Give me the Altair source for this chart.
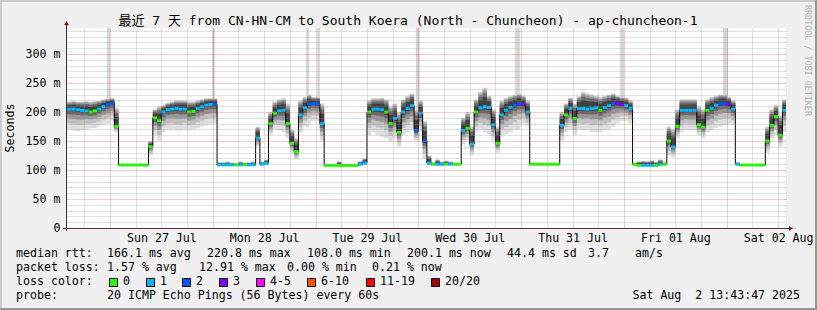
import altair as alt
import pandas as pd

# ---------------- data ----------------
hours = list(range(14, 182))  # hours since Sat 26 Jul 00:00

median_ms = [
    205, 205, 204, 203, 202, 200, 202, 205, 209, 213, 215,
    175,
    108.6, 108.6, 108.6, 108.6, 108.6, 108.6, 108.6,
    140, 190, 185,
    200, 204, 205, 206, 205, 205, 200, 201, 206, 209, 212, 213, 213,
    109, 109, 109, 109, 109, 109, 109, 109, 109,
    155, 110, 112,
    180, 198, 202, 203, 180, 146, 132, 195, 207, 214, 215, 214, 180,
    108, 108, 108, 108, 108, 108, 108, 108,
    110, 112,
    200, 205, 205, 204, 200, 180, 189, 165, 200, 206, 211, 168, 198, 150,
    112, 110, 110, 110, 110, 110, 110, 110,
    168, 172, 145, 200, 207, 209, 208, 178, 146, 195, 203, 208, 212, 215, 213, 200,
    110, 110, 110, 110, 110, 110, 110,
    177, 195, 206, 189, 206, 206, 205, 206, 207, 203, 208, 211, 215, 215, 213, 211, 206,
    110, 108, 108, 108, 108, 108, 110, 110,
    150, 140, 175, 203, 203, 203, 203, 178, 174, 203, 206, 212, 215, 215, 213, 205,
    110, 108.6, 108.6, 108.6, 108.6, 108.6, 108.6,
    150, 177, 192, 160, 203,
]

loss = [
    1, 1, 1, 1, 1, 0, 0, 1, 1, 2, 2,
    0,
    0, 0, 0, 0, 0, 0, 0,
    0, 0, 0,
    1, 1, 1, 1, 1, 1, 0, 0, 1, 1, 1, 1, 2,
    1, 1, 1, 1, 0, 1, 0, 1, 1,
    1, 1, 1,
    0, 0, 1, 1, 0, 0, 0, 1, 1, 2, 2, 2, 1,
    0, 0, 0, 0, 0, 0, 0, 0,
    1, 1,
    0, 1, 1, 1, 0, 0, 1, 0, 1, 1, 1, 2, 1, 2,
    1, 0, 1, 1, 0, 1, 0, 0,
    1, 0, 1, 0, 1, 1, 1, 1, 0, 1, 1, 1, 2, 2, 3, 1,
    0, 0, 0, 0, 0, 0, 0,
    1, 0, 1, 0, 1, 1, 1, 1, 1, 0, 1, 1, 2, 3, 3, 1, 1,
    0, 0, 1, 1, 1, 0, 1, 0,
    0, 1, 0, 1, 1, 1, 1, 0, 0, 0, 1, 1, 2, 2, 3, 1,
    1, 0, 0, 0, 0, 0, 0,
    0, 0, 0, 0, 1,
]

smoke_hi = [
    218, 219, 218, 218, 219, 218, 219, 220, 222, 223, 224,
    208,
    110, 109, 109, 109, 109, 109, 109,
    150, 205, 210,
    212, 216, 218, 220, 220, 220, 218, 218, 220, 222, 224, 224, 224,
    113, 113, 114, 112, 111, 114, 112, 113, 114,
    175, 114, 118,
    200, 218, 222, 224, 215, 170, 155, 220, 226, 230, 226, 226, 215,
    110, 109, 109, 115, 109, 109, 109, 109,
    115, 120,
    220, 224, 224, 225, 222, 210, 215, 200, 222, 228, 232, 205, 220, 185,
    125, 113, 118, 114, 116, 114, 112, 112,
    190, 200, 175, 222, 235, 242, 228, 205, 175, 220, 225, 228, 230, 232, 228, 220,
    111, 111, 111, 111, 111, 111, 111,
    200, 215, 225, 215, 228, 235, 232, 230, 228, 226, 228, 230, 232, 228, 226, 225, 220,
    112, 115, 116, 115, 117, 114, 118, 113,
    175, 170, 205, 222, 222, 222, 222, 210, 205, 222, 226, 228, 230, 230, 226, 220,
    113, 109, 109, 109, 109, 109, 109,
    175, 205, 212, 195, 222,
]

smoke_lo = [
    170, 168, 167, 168, 170, 172, 172, 175, 178, 180, 185,
    165,
    108, 108, 108, 108, 108, 108, 108,
    125, 160, 150,
    165, 170, 170, 168, 168, 170, 168, 170, 172, 175, 178, 180, 180,
    108, 108, 108, 108, 108, 108, 108, 108, 108,
    140, 108, 108,
    160, 170, 168, 165, 155, 130, 118, 165, 175, 180, 185, 185, 150,
    107, 107, 107, 107, 107, 107, 107, 107,
    108, 108,
    160, 165, 160, 158, 155, 150, 155, 140, 160, 165, 170, 150, 165, 120,
    108, 108, 108, 108, 108, 108, 108, 108,
    145, 150, 125, 165, 170, 165, 162, 150, 130, 160, 162, 165, 170, 175, 180, 175,
    109, 109, 109, 109, 109, 109, 109,
    150, 165, 170, 160, 170, 168, 170, 165, 165, 165, 168, 170, 175, 180, 185, 185, 180,
    108, 107, 107, 107, 107, 107, 108, 108,
    125, 122, 155, 165, 170, 168, 168, 160, 155, 165, 168, 172, 175, 178, 180, 178,
    108, 108, 108, 108, 108, 108, 108,
    130, 155, 160, 140, 165,
]

# outlier columns reaching above the chart (start / end hour)
spike_start = [23.3, 47.8, 69.8, 72.4, 95.4, 118.6, 143.1, 167.1]
spike_end = [24.0, 48.5, 70.5, 73.0, 96.3, 119.7, 144.0, 168.3]

day_labels = ["Sun 27 Jul", "Mon 28 Jul", "Tue 29 Jul", "Wed 30 Jul",
              "Thu 31 Jul", "Fri 01 Aug", "Sat 02 Aug"]

loss_names = ["0", "1", "2", "3", "4-5", "6-10", "11-19", "20/20"]
loss_colors = ["#26ff00", "#00b8ff", "#0059ff", "#7e00ff",
               "#ff00ff", "#ff5500", "#ff0000", "#a10000"]

title_text = "最近 7 天 from CN-HN-CM to South Koera (North - Chuncheon) - ap-chuncheon-1"
rtt_items = ["median rtt:", "166.1 ms avg", "220.8 ms max", "108.0 ms min",
             "200.1 ms now", "44.4 ms sd", "3.7", "am/s"]
loss_items = ["packet loss:", "1.57 % avg", "12.91 % max", "0.00 % min", "0.21 % now"]
probe_items = ["probe:", "20 ICMP Echo Pings (56 Bytes) every 60s"]
timestamp = "Sat Aug  2 13:43:47 2025"
credit = "RRDTOOL / TOBI OETIKER"

# ---------------- layout / style ----------------
MONO = "DejaVu Sans Mono"
FS = 11.6
W, H = 719, 200
OX, OY = 67, 28  # plot origin in page pixels

xs = alt.Scale(domain=[13.96, 181.83], nice=False, zero=False)
ys = alt.Scale(domain=[0, 345], nice=False, zero=False)

day_js = "[" + ",".join("'" + d + "'" for d in day_labels) + "]"
x_axis = alt.Axis(
    values=list(range(18, 181, 6)), title=None, grid=True, ticks=False, domain=False,
    gridColor={"condition": {"test": "datum.value % 24 === 0", "value": "#d03c3c"}, "value": "#8c8c8c"},
    gridOpacity=0.5, gridDash=[1, 1], zindex=1,
    labelExpr="datum.value % 24 === 12 ? " + day_js + "[(datum.value - 36) / 24] : ''",
    labelFont=MONO, labelFontSize=FS, labelColor="black", labelPadding=4,
    labelOverlap=False, labelFlush=False,
)
y_axis = alt.Axis(
    values=list(range(0, 341, 10)), title=None, grid=True, ticks=False, domain=False,
    gridColor={"condition": {"test": "datum.value % 50 === 0", "value": "#d03c3c"}, "value": "#8c8c8c"},
    gridOpacity=0.5, gridDash=[1, 1], zindex=1,
    labelExpr="datum.value % 50 === 0 ? (datum.value === 0 ? '0\u00a0\u00a0' : datum.value + ' m') : ''",
    labelFont=MONO, labelFontSize=FS, labelColor="black", labelPadding=7,
    labelOverlap=False,
)

df = pd.DataFrame({"t": hours, "med": median_ms, "loss": loss, "hi": smoke_hi, "lo": smoke_lo})
df["t_end"] = df["t"] + 1
df["col"] = [loss_colors[k] for k in loss]
ext = df.iloc[[-1]].copy()
ext["t"] = df["t"].iloc[-1] + 1
dfs = pd.concat([df, ext], ignore_index=True)

# smoke shading: fraction of the spread below / above the median, and grey level
band_specs = [(1.0, 1.0, "#dedede"), (0.7, 0.95, "#c0c0c0"), (0.45, 0.85, "#969696"),
              (0.25, 0.7, "#6a6a6a"), (0.1, 0.5, "#404040")]
for i, (fl, fh, _) in enumerate(band_specs):
    dfs[f"b{i}lo"] = dfs["med"] - fl * (dfs["med"] - dfs["lo"])
    dfs[f"b{i}hi"] = dfs["med"] + fh * (dfs["hi"] - dfs["med"])

spk = pd.DataFrame({"s": spike_start, "e": spike_end})
spk["base"] = [smoke_lo[hours.index(int(s))] for s in spike_start]
spk["top"] = 345

layers = []
layers.append(
    alt.Chart(spk).mark_rect(color="#d6d6d6", clip=True).encode(
        x=alt.X("s:Q", scale=xs, axis=x_axis), x2="e:Q",
        y=alt.Y("base:Q", scale=ys, axis=y_axis), y2="top:Q")
)
for i, (_, _, c) in enumerate(band_specs):
    layers.append(
        alt.Chart(dfs).mark_area(interpolate="step-after", color=c, clip=True).encode(
            x=alt.X("t:Q", scale=xs, axis=x_axis),
            y=alt.Y(f"b{i}lo:Q", scale=ys, axis=y_axis), y2=f"b{i}hi:Q")
    )
layers.append(
    alt.Chart(dfs).mark_line(interpolate="step-after", color="black", strokeWidth=1, clip=True).encode(
        x=alt.X("t:Q", scale=xs, axis=x_axis), y=alt.Y("med:Q", scale=ys, axis=y_axis))
)
layers.append(
    alt.Chart(df).mark_rule(strokeWidth=3, clip=True, strokeCap="butt").encode(
        x=alt.X("t:Q", scale=xs, axis=x_axis), x2="t_end:Q",
        y=alt.Y("med:Q", scale=ys, axis=y_axis),
        color=alt.Color("col:N", scale=None))
)

one = pd.DataFrame({"k": [0]})


def rule(x1, y1, x2, y2, color, w=1):
    return alt.Chart(one).mark_rule(color=color, strokeWidth=w).encode(
        x=alt.value(x1 - OX), x2=alt.value(x2 - OX), y=alt.value(y1 - OY), y2=alt.value(y2 - OY))


def txt(s, x, y, align="left", size=FS, color="black", angle=0, font=MONO):
    return alt.Chart(one).mark_text(
        text=s, font=font, fontSize=size, color=color, align=align, baseline="middle", angle=angle
    ).encode(x=alt.value(x - OX), y=alt.value(y - OY))


# frame
layers += [rule(0, 1, 817, 1, "#cbcbcb", 2), rule(1, 0, 1, 310, "#cbcbcb", 2),
           rule(816, 0, 816, 310, "#969696", 2), rule(0, 309, 817, 309, "#969696", 2)]
# axis lines + arrows
layers += [rule(66.5, 24, 66.5, 231, "#303030", 1), rule(63, 228.5, 789, 228.5, "#303030", 1)]
layers.append(alt.Chart(one).mark_point(shape="triangle-up", filled=True, size=22, color="#7f0000", opacity=1)
              .encode(x=alt.value(66.5 - OX), y=alt.value(23 - OY)))
layers.append(alt.Chart(one).mark_point(shape="triangle-right", filled=True, size=22, color="#7f0000", opacity=1)
              .encode(x=alt.value(791 - OX), y=alt.value(228.5 - OY)))

# titles
layers.append(txt(title_text, 408, 21, align="center", size=13, font=MONO + ", Noto Sans CJK SC"))
layers.append(txt("Seconds", 11, 128, align="center", angle=270))
layers.append(txt(credit, 808, 5, align="left", size=8.4, color="#b4b4b4", angle=90))

# legend text
rtt_x = [16, 107, 207, 307, 407, 507, 588, 635]
for s, x in zip(rtt_items, rtt_x):
    layers.append(txt(s, x, 254))
loss_x = [16, 107, 199, 287, 372]
for s, x in zip(loss_items, loss_x):
    layers.append(txt(s, x, 268))
layers.append(txt("loss color:", 16, 282))
box_x = [109, 146, 182, 219, 256, 307, 366, 431]
for name, c, bx in zip(loss_names, loss_colors, box_x):
    layers.append(alt.Chart(one).mark_rect(color=c, stroke="black", strokeWidth=1).encode(
        x=alt.value(bx + 0.5 - OX), x2=alt.value(bx + 8.5 - OX),
        y=alt.value(278.5 - OY), y2=alt.value(286.5 - OY)))
    layers.append(txt(name, bx + 14, 282))
layers.append(txt(probe_items[0], 16, 296))
layers.append(txt(probe_items[1], 107, 296))
layers.append(txt(timestamp.replace("  ", "\u00a0\u00a0"), 800, 296, align="right"))

chart = alt.layer(*layers).properties(
    width=W, height=H,
    autosize=alt.AutoSizeParams(type="none"),
    padding={"left": OX, "top": OY, "right": 817 - OX - W, "bottom": 310 - OY - H},
).configure(background="#f0f0f0").configure_view(fill="white", stroke=None)

chart.save("out.html", embed_options={"renderer": "svg", "actions": False})
